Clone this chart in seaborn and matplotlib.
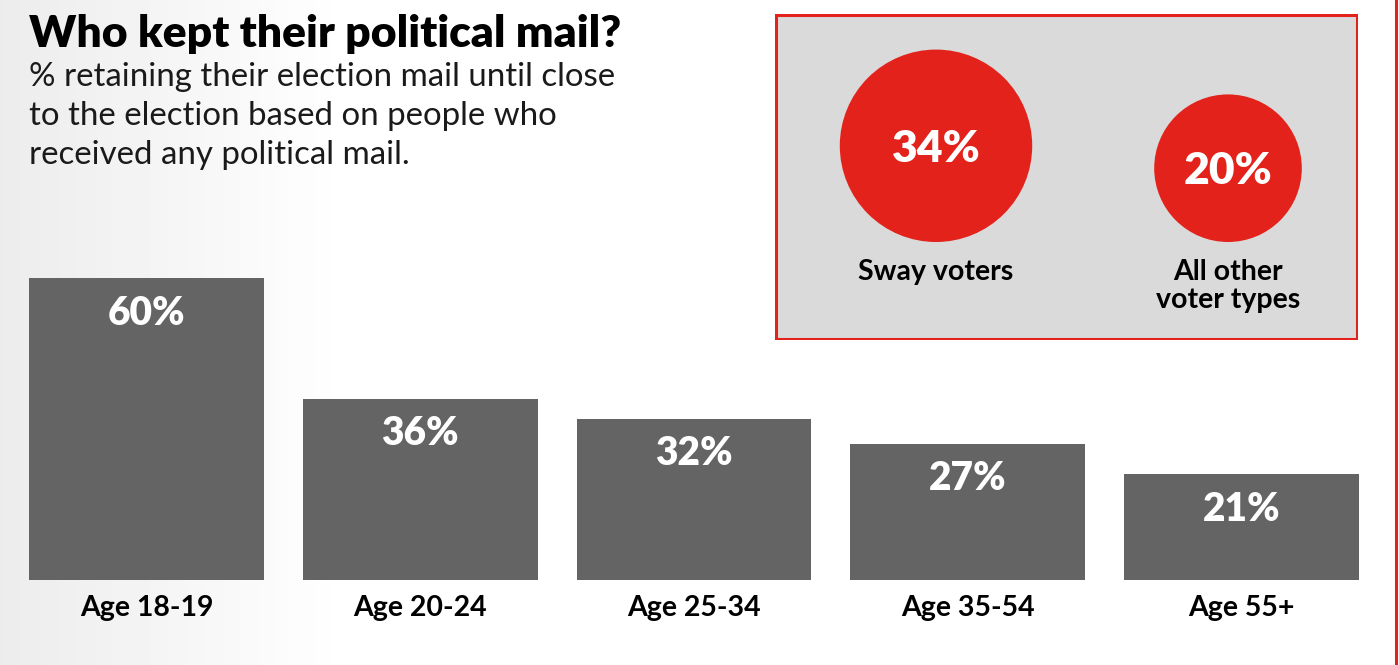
import numpy as np
import matplotlib
matplotlib.use("Agg")
import matplotlib.pyplot as plt
from matplotlib.patches import Circle, Rectangle
import seaborn as sns
import pandas as pd

# ---- data ----
age_groups = ["Age 18-19", "Age 20-24", "Age 25-34", "Age 35-54", "Age 55+"]
retained_pct = [60, 36, 32, 27, 21]
voter_types = ["Sway voters", "All other\nvoter types"]
voter_pct = [34, 20]

title = "Who kept their political mail?"
subtitle = "% retaining their election mail until close\nto the election based on people who\nreceived any political mail."

W, H = 1399, 665
DPI = 100
BAR = "#646464"
RED = "#E3221B"
BOXBG = "#D9DAD9"

sns.set_theme(style="white")
plt.rcParams["font.family"] = ["Lato", "DejaVu Sans"]

fig = plt.figure(figsize=(W / DPI, H / DPI), dpi=DPI)
fig.patch.set_facecolor("white")

def px_axes(x0, y0, x1, y1, **kw):
    return fig.add_axes([x0 / W, 1 - y1 / H, (x1 - x0) / W, (y1 - y0) / H], **kw)

# background gradient (light gray at left to white)
bg = fig.add_axes([0, 0, 1, 1], zorder=-10)
grad = np.linspace(0, 1, W)
vals = np.clip(0.925 + (1 - 0.925) * (grad / 0.25), 0, 1)
img = np.tile(vals, (10, 1))
bg.imshow(img, cmap="gray", vmin=0, vmax=1, aspect="auto", extent=[0, 1, 0, 1])
bg.set_axis_off()

# ---- bar chart ----
ax = px_axes(29, 228, 1359, 580)
df = pd.DataFrame({"age": age_groups, "pct": retained_pct})
sns.barplot(data=df, x="age", y="pct", color=BAR, saturation=1, width=0.858,
            ax=ax, edgecolor="none")
ax.set_xlim(-0.429, len(age_groups) - 1 + 0.429)
ax.set_ylim(0, 70)
ax.set_facecolor("none")
for s in ax.spines.values():
    s.set_visible(False)
ax.set_yticks([])
ax.set_xlabel("")
ax.set_ylabel("")
ax.tick_params(axis="x", length=0, pad=11)
for lab in ax.get_xticklabels():
    lab.set_fontsize(20.5)
    lab.set_fontweight("bold")
    lab.set_color("black")
for i, v in enumerate(retained_pct):
    ax.annotate(f"{v}%", xy=(i, v), xytext=(0, -25), textcoords="offset points",
                ha="center", va="center", color="white", fontsize=28,
                fontweight="heavy")

# ---- inset box ----
bx0, by0, bx1, by1 = 775, 14, 1358, 340
iax = px_axes(bx0, by0, bx1, by1)
iax.set_xlim(0, bx1 - bx0)
iax.set_ylim(by1 - by0, 0)
iax.set_axis_off()
iax.add_patch(Rectangle((1, 1), bx1 - bx0 - 2, by1 - by0 - 2, facecolor=BOXBG,
                        edgecolor=RED, linewidth=2.2))
centers_x = [161, 453]
base_y = 228
k = 16.5
for cx, v, lab in zip(centers_x, voter_pct, voter_types):
    r = k * np.sqrt(v)
    iax.add_patch(Circle((cx, base_y - r), r, facecolor=RED, edgecolor="none"))
    iax.text(cx, base_y - r + 3, f"{v}%", ha="center", va="center", color="white",
             fontsize=32, fontweight="heavy")
    iax.text(cx, 245, lab, ha="center", va="top", color="black", fontsize=20.5,
             fontweight="bold", linespacing=1.08)

# ---- titles ----
fig.text(29 / W, 1 - 14 / H, title, ha="left", va="top", fontsize=32,
         fontweight="heavy", color="black")
fig.text(29 / W, 1 - 62 / H, subtitle, ha="left", va="top", fontsize=23.8,
         color="#1a1a1a", linespacing=1.37)

# right edge red line
fig.add_artist(plt.Line2D([1395.5 / W, 1395.5 / W], [0, 1], color=RED, lw=2.2))

fig.savefig("out.png", dpi=DPI)
